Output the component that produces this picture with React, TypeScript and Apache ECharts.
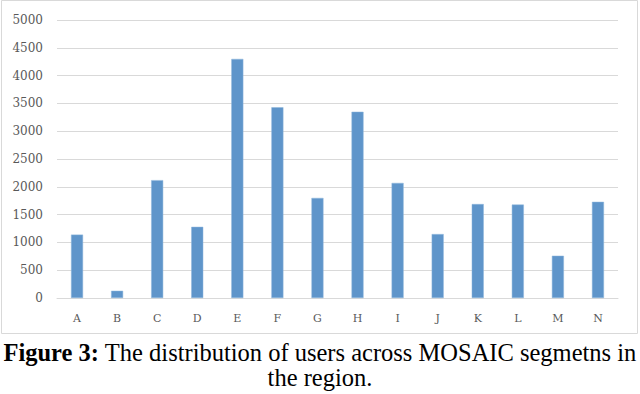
import React, { useEffect, useRef } from "react";
import * as echarts from "echarts";

const categories = ["A", "B", "C", "D", "E", "F", "G", "H", "I", "J", "K", "L", "M", "N"];
const users = [1140, 130, 2120, 1280, 4300, 3430, 1800, 3350, 2070, 1150, 1690, 1680, 760, 1730];
const yTicks = { min: 0, max: 5000, interval: 500 };
const captionBold = "Figure 3:";
const captionRest = " The distribution of users across MOSAIC segmetns in";
const captionLine2 = "the region.";

const SERIF = "Liberation Serif";
const AXISFONT = "DejaVu Serif";

export default function App() {
  const ref = useRef<HTMLDivElement>(null);
  useEffect(() => {
    document.body.style.margin = "0";
    const chart = echarts.init(ref.current!, null, { renderer: "svg" });
    chart.setOption({
      animation: false,
      backgroundColor: "#ffffff",
      grid: { left: 57, right: 22, top: 20, bottom: 96, containLabel: false },
      xAxis: {
        type: "category",
        data: categories,
        axisLine: { show: true, lineStyle: { color: "#d9d9d9", width: 1 } },
        axisTick: { show: false },
        axisLabel: { color: "#595959", fontFamily: AXISFONT, fontSize: 11, margin: 15 },
      },
      yAxis: {
        type: "value",
        min: yTicks.min,
        max: yTicks.max,
        interval: yTicks.interval,
        axisLine: { show: false },
        axisTick: { show: false },
        splitLine: { lineStyle: { color: "#d9d9d9", width: 1 } },
        axisLabel: {
          color: "#595959",
          fontFamily: AXISFONT,
          fontSize: 12,
          margin: 14,
          formatter: (v: number) => String(v),
        },
      },
      series: [
        {
          type: "bar",
          data: users,
          barWidth: "30%",
          itemStyle: { color: "#5f95ca", borderColor: "#8fb6dd", borderWidth: 0.5 },
        },
      ],
      graphic: [
        {
          type: "rect",
          shape: { x: 1.5, y: 0.5, width: 636, height: 333 },
          style: { fill: "none", stroke: "#d9d9d9", lineWidth: 1 },
          silent: true,
        },
        {
          type: "text",
          x: 320,
          y: 352,
          style: {
            text: `{b|${captionBold}}{r|${captionRest}}`,
            align: "center",
            verticalAlign: "middle",
            rich: {
              b: { fontFamily: SERIF, fontWeight: "bold", fontSize: 24.5, fill: "#000" },
              r: { fontFamily: SERIF, fontSize: 24.5, fill: "#000" },
            },
          },
        },
        {
          type: "text",
          x: 320,
          y: 377,
          style: {
            text: captionLine2,
            align: "center",
            verticalAlign: "middle",
            fontFamily: SERIF,
            fontSize: 24.5,
            fill: "#000",
          },
        },
      ],
    });
    return () => chart.dispose();
  }, []);
  return <div ref={ref} style={{ width: 640, height: 394 }} />;
}
